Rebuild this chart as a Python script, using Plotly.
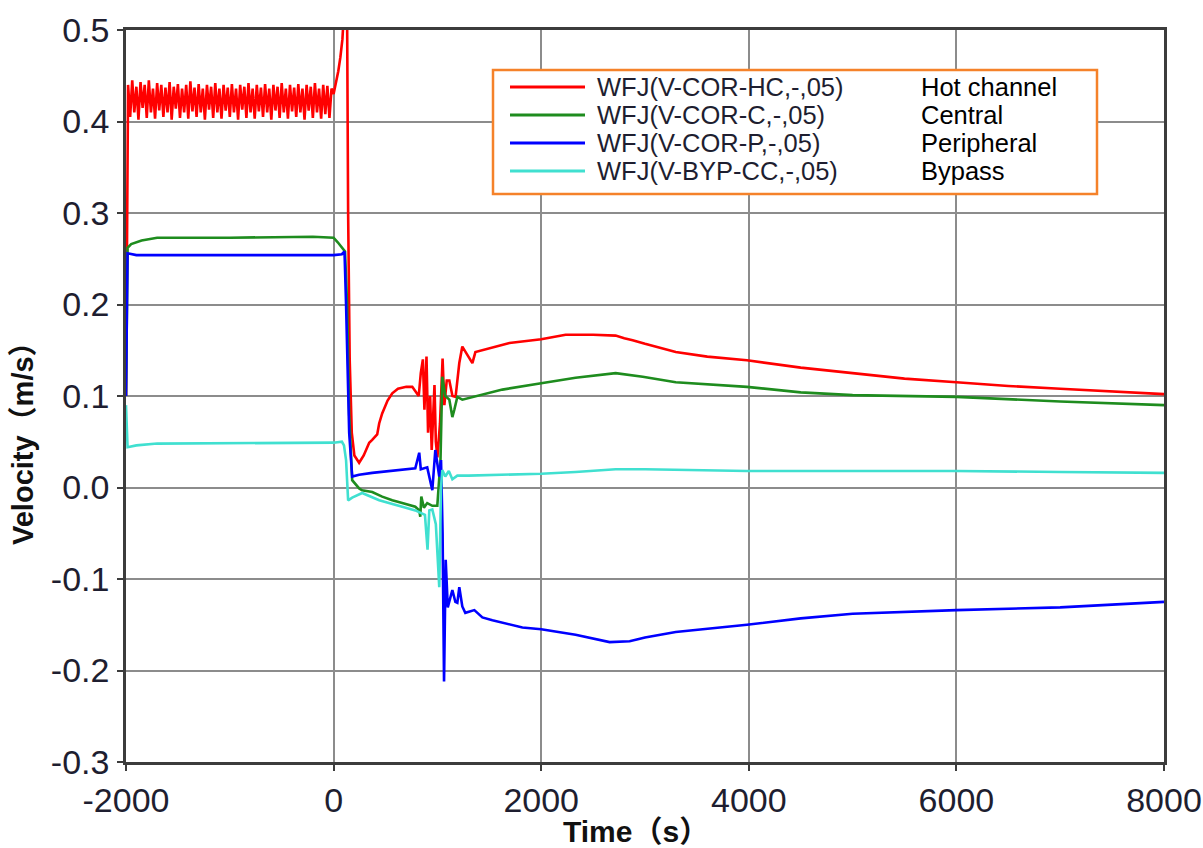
import plotly.graph_objects as go

# ---------------- data ----------------
hot_t = [-2000,
         -1980, -1960, -1940, -1920, -1900, -1880, -1860, -1840, -1820, -1800,
         -1780, -1760, -1740, -1720, -1700, -1680, -1660, -1640, -1620, -1600,
         -1580, -1560, -1540, -1520, -1500, -1480, -1460, -1440, -1420, -1400,
         -1380, -1360, -1340, -1320, -1300, -1280, -1260, -1240, -1220, -1200,
         -1180, -1160, -1140, -1120, -1100, -1080, -1060, -1040, -1020, -1000,
         -980, -960, -940, -920, -900, -880, -860, -840, -820, -800,
         -780, -760, -740, -720, -700, -680, -660, -640, -620, -600,
         -580, -560, -540, -520, -500, -480, -460, -440, -420, -400,
         -380, -360, -340, -320, -300, -280, -260, -240, -220, -200,
         -180, -160, -140, -120, -100, -80, -60, -40, -20, 0,
         20, 45, 65, 85, 100, 115, 130, 140, 155, 175, 200, 246, 290,
         343, 372, 420, 439, 468, 520, 565, 620, 700, 758, 800, 820, 840, 860, 875, 895, 910,
         930, 945, 960, 972, 985, 1000, 1025, 1050, 1067, 1090, 1115, 1145, 1175, 1200, 1211,
         1240, 1290, 1337, 1366, 1433, 1550, 1694, 2000, 2235, 2500, 2717, 2800, 2881, 3000,
         3296, 3600, 3982, 4500, 5000, 5500, 6000, 6500, 7000, 7500, 8000]
hot_v = [0.10,
         0.44, 0.405, 0.445, 0.41, 0.438, 0.402, 0.443, 0.415, 0.44, 0.404,
         0.445, 0.41, 0.436, 0.403, 0.442, 0.412, 0.44, 0.405, 0.437, 0.41,
         0.443, 0.402, 0.438, 0.414, 0.441, 0.404, 0.436, 0.41, 0.44, 0.403,
         0.444, 0.411, 0.437, 0.405, 0.441, 0.41, 0.436, 0.402, 0.44, 0.413,
         0.438, 0.404, 0.442, 0.41, 0.436, 0.403, 0.44, 0.412, 0.437, 0.405,
         0.441, 0.41, 0.436, 0.402, 0.44, 0.413, 0.438, 0.404, 0.442, 0.41,
         0.436, 0.403, 0.44, 0.411, 0.437, 0.405, 0.441, 0.41, 0.436, 0.402,
         0.44, 0.412, 0.438, 0.404, 0.442, 0.41, 0.436, 0.403, 0.44, 0.411,
         0.437, 0.405, 0.441, 0.41, 0.436, 0.402, 0.44, 0.412, 0.438, 0.404,
         0.442, 0.41, 0.436, 0.403, 0.44, 0.408, 0.439, 0.404, 0.436, 0.43,
         0.44, 0.455, 0.47, 0.49, 0.52, 0.56, 0.52, 0.30, 0.14, 0.06, 0.035, 0.027, 0.035,
         0.049, 0.052, 0.058, 0.070, 0.081, 0.095, 0.103, 0.108, 0.110, 0.110, 0.104, 0.100,
         0.125, 0.140, 0.085, 0.143, 0.060, 0.100, 0.041, 0.090, 0.112, 0.050, 0.033, 0.070,
         0.141, 0.090, 0.117, 0.117, 0.100, 0.099, 0.125, 0.136, 0.154, 0.145, 0.136, 0.148,
         0.150, 0.154, 0.158, 0.162, 0.167, 0.167, 0.166, 0.163, 0.161, 0.157, 0.148, 0.143,
         0.139, 0.131, 0.125, 0.119, 0.115, 0.111, 0.108, 0.105, 0.102]

cen_t = [-2000, -1985, -1950, -1850, -1700, -1000, -200, 0, 40, 80, 110, 130, 150, 179, 246,
         275, 372, 468, 565, 661, 787, 825, 835, 845, 870, 902, 951, 999, 1030, 1047, 1076,
         1115, 1144, 1163, 1192, 1240, 1308, 1366, 1433, 1626, 2000, 2331, 2717, 2978, 3296,
         3982, 4500, 5000, 6000, 7000, 8000]
cen_v = [0.10, 0.262, 0.266, 0.270, 0.273, 0.273, 0.274, 0.273, 0.268, 0.262, 0.258, 0.20,
         0.08, 0.008, -0.001, -0.003, -0.005, -0.010, -0.014, -0.017, -0.021, -0.025, -0.032,
         -0.010, -0.022, -0.017, -0.020, -0.020, 0.030, 0.121, 0.100, 0.096, 0.077, 0.085,
         0.099, 0.096, 0.098, 0.099, 0.101, 0.107, 0.114, 0.120, 0.125, 0.121, 0.115, 0.110,
         0.104, 0.101, 0.099, 0.094, 0.090]

per_t = [-2000, -1985, -1900, 0, 80, 105, 120, 150, 179, 246, 372, 661, 787, 825, 840, 902,
         951, 980, 1018, 1035, 1050, 1064, 1072, 1080, 1100, 1115, 1144, 1173, 1192, 1211,
         1240, 1269, 1308, 1356, 1433, 1530, 1819, 2000, 2331, 2659, 2852, 3000, 3296, 3982,
         4500, 5000, 6000, 7000, 7500, 8000]
per_v = [0.10, 0.256, 0.254, 0.254, 0.255, 0.258, 0.20, 0.06, 0.012, 0.014, 0.016, 0.019,
         0.021, 0.038, 0.020, 0.022, -0.003, 0.041, 0.012, 0.030, -0.050, -0.212, -0.100,
         -0.079, -0.131, -0.125, -0.112, -0.125, -0.126, -0.109, -0.130, -0.137, -0.136,
         -0.134, -0.142, -0.145, -0.153, -0.155, -0.161, -0.169, -0.168, -0.164, -0.158,
         -0.150, -0.143, -0.138, -0.134, -0.131, -0.128, -0.125]

byp_t = [-2000, -1985, -1900, -1700, 0, 80, 100, 120, 140, 179, 275, 439, 661, 787, 880, 905,
         922, 951, 985, 1018, 1035, 1047, 1076, 1110, 1144, 1192, 1300, 1626, 2000, 2331,
         2717, 3000, 3982, 5000, 6000, 7000, 8000]
byp_v = [0.09, 0.044, 0.046, 0.048, 0.049, 0.050, 0.046, 0.030, -0.014, -0.011, -0.006,
         -0.014, -0.021, -0.025, -0.030, -0.068, -0.025, -0.024, -0.040, -0.109, 0.000, 0.019,
         0.012, 0.018, 0.009, 0.013, 0.013, 0.014, 0.015, 0.017, 0.020, 0.020, 0.018, 0.018,
         0.018, 0.017, 0.016]

series_codes = ["WFJ(V-COR-HC,-,05)", "WFJ(V-COR-C,-,05)", "WFJ(V-COR-P,-,05)", "WFJ(V-BYP-CC,-,05)"]
series_names = ["Hot channel", "Central", "Peripheral", "Bypass"]
series_colors = ["#ff0000", "#1e8c1e", "#0000ff", "#40e0d0"]

x_ticks = [-2000, 0, 2000, 4000, 6000, 8000]
y_ticks = [-0.3, -0.2, -0.1, 0.0, 0.1, 0.2, 0.3, 0.4, 0.5]
y_tick_text = ["-0.3", "-0.2", "-0.1", "0.0", "0.1", "0.2", "0.3", "0.4", "0.5"]

# ---------------- figure ----------------
W, H = 1203, 848
L, R, T, B = 126, 1164, 30, 762  # plot area in pixels


def px(x):
    return (x - L) / (R - L)


def py(y):
    return (B - y) / (B - T)


fig = go.Figure()
all_t = [hot_t, cen_t, per_t, byp_t]
all_v = [hot_v, cen_v, per_v, byp_v]
for t, v, code, name, col in zip(all_t, all_v, series_codes, series_names, series_colors):
    fig.add_trace(go.Scatter(x=t, y=v, mode="lines", name=code + "  " + name,
                             line=dict(color=col, width=2.6), showlegend=False))

font_main = "Liberation Sans, Arial, Noto Sans CJK SC"
axis_common = dict(showline=True, mirror=True, linecolor="#3c3c3c", linewidth=2.5,
                   showgrid=True, gridcolor="#8c8c8c", gridwidth=2, zeroline=False,
                   ticks="outside", ticklen=6, tickwidth=2, tickcolor="#3c3c3c",
                   automargin=False,
                   tickfont=dict(family=font_main, size=34, color="#1e1e30"))

fig.update_xaxes(range=[-2000, 8000], tickvals=x_ticks, ticktext=[str(v) for v in x_ticks],
                 **axis_common)
fig.update_yaxes(range=[-0.3, 0.5], tickvals=y_ticks, ticktext=y_tick_text,
                 ticklabelstandoff=1, **axis_common)

# legend box drawn manually
shapes = [dict(type="rect", xref="paper", yref="paper", x0=px(493), x1=px(1097), y0=py(194),
               y1=py(70), fillcolor="white", line=dict(color="#f5822a", width=2.5), layer="above")]
annotations = []
rows = [87, 115, 143, 171]
for ry, code, name, col in zip(rows, series_codes, series_names, series_colors):
    shapes.append(dict(type="line", xref="paper", yref="paper", x0=px(510), x1=px(585),
                       y0=py(ry), y1=py(ry), line=dict(color=col, width=3), layer="above"))
    annotations.append(dict(xref="paper", yref="paper", x=px(596), y=py(ry), text=code,
                            showarrow=False, xanchor="left", yanchor="middle", borderpad=0,
                            font=dict(family=font_main, size=25.5, color="#1e1e30")))
    annotations.append(dict(xref="paper", yref="paper", x=px(920), y=py(ry), text=name,
                            showarrow=False, xanchor="left", yanchor="middle", borderpad=0,
                            font=dict(family=font_main, size=25.5, color="#000000")))

# axis titles
annotations.append(dict(xref="paper", yref="paper", x=px(636), y=py(831), text="<b>Time（s）</b>",
                        showarrow=False, xanchor="center", yanchor="middle",
                        font=dict(family=font_main, size=30, color="#111111")))
annotations.append(dict(xref="paper", yref="paper", x=px(23), y=py(436),
                        text="<b>Velocity（m/s）</b>", textangle=-90,
                        showarrow=False, xanchor="center", yanchor="middle",
                        font=dict(family=font_main, size=29, color="#111111")))

fig.update_layout(width=W, height=H, margin=dict(l=L, r=W - R, t=T, b=H - B, autoexpand=False),
                  paper_bgcolor="white", plot_bgcolor="white", showlegend=False,
                  shapes=shapes, annotations=annotations)

fig.write_html("out.html")
